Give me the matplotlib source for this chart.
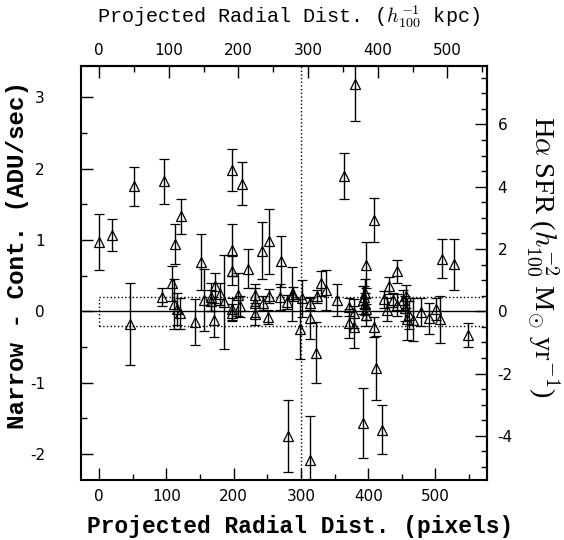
import matplotlib
matplotlib.use("Agg")
import matplotlib.pyplot as plt
from matplotlib.ticker import MultipleLocator, FuncFormatter

# radial distance (pixels), narrow - continuum flux (ADU/sec) and its 1-sigma error
radius_pix = [0.5, 19, 52, 96, 121, 113, 151, 198, 212, 198,
              198, 221, 242, 252, 270, 287, 185, 46, 94, 109,
              112, 115, 120, 142, 156, 166, 171, 172, 167, 180,
              198, 198, 207, 209, 231, 231, 231, 244, 251, 252,
              269, 279, 281, 288, 301, 299, 314, 314, 314, 322,
              324, 330, 337, 354, 364, 371, 372, 379, 379, 380,
              392, 392, 395, 394, 395, 397, 397, 397, 408, 408,
              411, 421, 423, 428, 431, 437, 443, 443, 451, 456,
              454, 457, 461, 466, 479, 490, 501, 507, 509, 527,
              548]
flux_adu = [0.97, 1.07, 1.75, 1.82, 1.33, 0.94, 0.69, 1.98, 1.79, 0.86,
            0.57, 0.60, 0.85, 0.98, 0.70, 0.24, 0.13, -0.18, 0.20, 0.39,
            0.10, 0.03, -0.03, -0.15, 0.16, 0.20, -0.12, 0.35, 0.15, 0.24,
            0.03, -0.02, 0.23, 0.07, 0.23, 0.12, -0.04, 0.12, -0.08, 0.21,
            0.20, 0.13, -1.75, 0.24, 0.18, -0.25, 0.11, -0.10, -2.09, -0.58,
            0.21, 0.39, 0.30, 0.16, 1.90, 0.06, -0.17, -0.03, -0.22, 3.18,
            -1.56, 0.16, 0.25, 0.20, 0.10, 0.03, -0.05, 0.65, 1.28, -0.22,
            -0.80, -1.66, 0.17, 0.02, 0.36, 0.16, 0.56, 0.09, 0.16, 0.21,
            0.04, -0.11, -0.05, -0.12, -0.01, -0.10, 0.03, -0.11, 0.74, 0.66,
            -0.33]
flux_err = [0.39, 0.23, 0.28, 0.32, 0.25, 0.28, 0.39, 0.30, 0.30, 0.37,
            0.20, 0.27, 0.40, 0.46, 0.36, 0.38, 0.66, 0.57, 0.13, 0.24,
            0.35, 0.22, 0.22, 0.32, 0.44, 0.20, 0.24, 0.18, 0.15, 0.15,
            0.15, 0.12, 0.30, 0.15, 0.15, 0.20, 0.15, 0.10, 0.10, 0.10,
            0.18, 0.10, 0.50, 0.10, 0.26, 0.42, 0.09, 0.29, 0.62, 0.43,
            0.09, 0.17, 0.28, 0.22, 0.32, 0.12, 0.20, 0.20, 0.30, 0.51,
            0.49, 0.20, 0.20, 0.15, 0.15, 0.15, 0.15, 0.32, 0.31, 0.14,
            0.45, 0.34, 0.12, 0.16, 0.12, 0.10, 0.16, 0.15, 0.14, 0.16,
            0.18, 0.29, 0.20, 0.30, 0.19, 0.22, 0.15, 0.33, 0.28, 0.36,
            0.17]

KPC_PER_PIX = 0.9655
SFR_PER_ADU = 2.29
noise_band = 0.2
edge_radius = 300

plt.rcParams['mathtext.fontset'] = 'cm'
plt.rcParams['axes.unicode_minus'] = False

fig = plt.figure(figsize=(5.64, 5.40), dpi=100)
ax = fig.add_axes([81 / 564, 1 - 479.5 / 540, (486.6 - 81) / 564, (479.5 - 66) / 540])
ax.set_xlim(-27, 576)
ax.set_ylim(-2.358, 3.439)

ax.errorbar(radius_pix, flux_adu, yerr=flux_err, fmt='^', color='black',
            mfc='none', mec='black', ms=6.5, mew=0.9, elinewidth=1.0,
            capsize=3.5, capthick=1.0, zorder=3)

# zero line, noise band and edge marker
ax.axhline(0, color='black', lw=1.0, zorder=2)
ax.plot([0, 600], [noise_band, noise_band], color='black', ls=':', lw=1.0)
ax.plot([0, 600], [-noise_band, -noise_band], color='black', ls=':', lw=1.0)
ax.plot([0, 0], [-noise_band, noise_band], color='black', ls=':', lw=1.0)
ax.axvline(edge_radius, color='black', ls=':', lw=1.0)

for s in ax.spines.values():
    s.set_linewidth(1.5)

int_fmt = FuncFormatter(lambda v, p: f"{v:.0f}")

ax.xaxis.set_major_locator(MultipleLocator(100))
ax.xaxis.set_minor_locator(MultipleLocator(50))
ax.yaxis.set_major_locator(MultipleLocator(1))
ax.yaxis.set_minor_locator(MultipleLocator(0.5))
ax.yaxis.set_major_formatter(int_fmt)
ax.tick_params(which='both', direction='in', top=False, right=False, width=1.0,
               labelsize=11)
ax.tick_params(which='major', length=8.5)
ax.tick_params(which='minor', length=4.5)
ax.tick_params(axis='x', pad=7)
ax.tick_params(axis='y', pad=26)

# top axis in kpc
top = ax.secondary_xaxis('top', functions=(lambda x: x * KPC_PER_PIX, lambda k: k / KPC_PER_PIX))
top.xaxis.set_major_locator(MultipleLocator(100))
top.xaxis.set_minor_locator(MultipleLocator(50))
top.tick_params(which='both', direction='in', width=1.0, pad=6, labelsize=11)
top.tick_params(which='major', length=8.5)
top.tick_params(which='minor', length=4.5)

# right axis in SFR units
right = ax.secondary_yaxis('right', functions=(lambda y: y * SFR_PER_ADU, lambda s: s / SFR_PER_ADU))
right.yaxis.set_major_locator(MultipleLocator(2))
right.yaxis.set_minor_locator(MultipleLocator(0.5))
right.yaxis.set_major_formatter(int_fmt)
right.tick_params(which='both', direction='in', width=1.0, pad=8, labelsize=11)
right.tick_params(which='major', length=8.5)
right.tick_params(which='minor', length=4.5)
for s in list(top.spines.values()) + list(right.spines.values()):
    s.set_linewidth(1.5)

fig.text(300 / 564, 1 - 527 / 540, 'Projected Radial Dist. (pixels)', ha='center', va='center',
         family='Liberation Mono', weight='bold', fontsize=16.5)
fig.text(288 / 564, 1 - 17 / 540, r'Projected Radial Dist. ($h^{-1}_{100}$ kpc)', ha='center',
         va='center', family='Liberation Mono', fontsize=14.5)
fig.text(18 / 564, 1 - 255 / 540, 'Narrow - Cont. (ADU/sec)', ha='center', va='center',
         rotation=90, family='Liberation Mono', weight='bold', fontsize=17.5)
fig.text(543 / 564, 1 - 257 / 540, r'H$\alpha$ SFR ($h^{-2}_{100}$ M$_{\odot}$ yr$^{-1}$)',
         ha='center', va='center', rotation=270, family='Liberation Serif', fontsize=20.5)

fig.savefig('out.png', dpi=100)
